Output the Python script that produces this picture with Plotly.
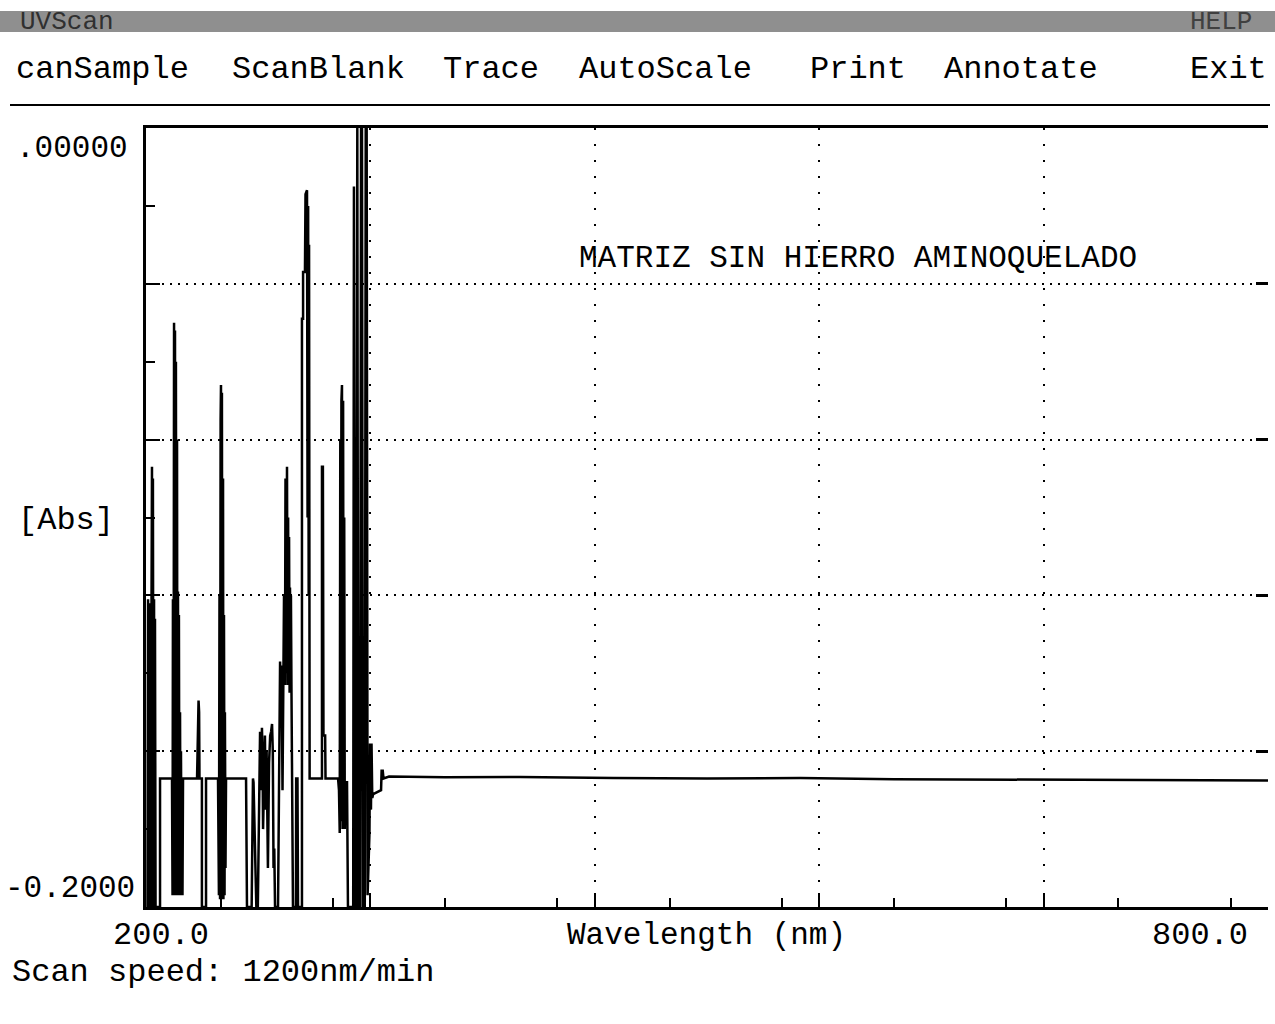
import plotly.graph_objects as go

# ---------------- data ----------------
wl_uv = [
    200.8, 201.1, 201.3, 201.6, 201.9, 202.1, 202.4, 202.7, 202.9, 203.2,
    203.5, 203.7, 204.0, 204.3, 204.5, 204.8, 205.1, 205.9, 207.5, 207.5,
    213.9, 214.2, 214.4, 214.7, 215.0, 215.3, 215.5, 215.8, 216.0, 216.3,
    216.6, 216.8, 217.1, 217.4, 217.6, 217.9, 218.2, 218.5, 218.7, 219.0,
    219.3, 219.5, 219.8, 227.3, 227.8, 228.1, 228.4, 228.6, 229.9, 229.9,
    232.1, 232.1, 238.5, 239.0, 239.3, 239.6, 239.9, 240.1, 240.4, 240.6,
    240.9, 241.2, 241.4, 241.7, 242.0, 242.2, 242.5, 242.8, 253.5, 254.0,
    256.5, 257.2, 257.5, 259.0, 259.8, 261.0, 261.3, 261.6, 262.0, 262.3,
    262.6, 263.6, 264.0, 264.5, 265.2, 265.8, 266.4, 266.9, 267.4, 267.8,
    268.2, 268.6, 269.0, 270.6, 271.2, 271.7, 272.0, 272.5, 273.0, 273.3,
    273.8, 274.3, 274.6, 274.9, 275.2, 275.4, 275.7, 276.0, 276.2, 276.5,
    276.8, 277.0, 277.3, 277.5, 277.8, 278.6, 280.2, 280.3, 281.0, 281.3,
    282.8, 283.4, 283.4, 284.0, 284.0, 285.0, 285.3, 286.1, 286.4, 286.7,
    287.0, 287.2, 287.5, 294.1, 294.1, 294.6, 294.9, 295.8, 296.0, 302.7,
    303.2, 303.6, 303.9, 304.2, 304.5, 304.8, 305.1, 305.4, 305.7, 306.0,
    306.3, 306.6, 307.5, 308.0, 310.8, 311.2, 311.7, 312.3, 313.0, 313.5,
    314.5, 315.0, 315.5, 316.0, 317.0, 317.5, 318.0, 318.5, 319.5, 319.8,
    320.3, 320.6, 321.0, 321.5, 325.7, 326.0, 326.6, 327.0,
]
abs_uv = [
    -0.200, -0.121, -0.200, -0.123, -0.200, -0.122, -0.200, -0.119, -0.100, -0.087,
    -0.200, -0.090, -0.200, -0.121, -0.200, -0.126, -0.200, -0.200, -0.200, -0.167,
    -0.167, -0.197, -0.121, -0.196, -0.050, -0.197, -0.052, -0.196, -0.060, -0.197,
    -0.080, -0.196, -0.119, -0.197, -0.125, -0.195, -0.150, -0.197, -0.160, -0.194,
    -0.170, -0.197, -0.167, -0.167, -0.147, -0.147, -0.150, -0.167, -0.167, -0.200,
    -0.200, -0.167, -0.167, -0.197, -0.120, -0.198, -0.075, -0.066, -0.198, -0.068,
    -0.197, -0.090, -0.198, -0.125, -0.197, -0.150, -0.190, -0.167, -0.167, -0.200,
    -0.200, -0.167, -0.168, -0.200, -0.200, -0.155, -0.158, -0.170, -0.154, -0.160,
    -0.180, -0.156, -0.175, -0.160, -0.190, -0.163, -0.156, -0.155, -0.153, -0.160,
    -0.190, -0.185, -0.200, -0.200, -0.160, -0.137, -0.145, -0.138, -0.170, -0.146,
    -0.120, -0.143, -0.090, -0.140, -0.095, -0.087, -0.143, -0.100, -0.130, -0.105,
    -0.145, -0.118, -0.140, -0.120, -0.145, -0.200, -0.200, -0.167, -0.167, -0.200,
    -0.200, -0.200, -0.049, -0.049, -0.037, -0.037, -0.017, -0.016, -0.100, -0.020,
    -0.120, -0.030, -0.167, -0.167, -0.087, -0.087, -0.156, -0.156, -0.167, -0.167,
    -0.170, -0.181, -0.080, -0.178, -0.070, -0.066, -0.180, -0.070, -0.176, -0.100,
    -0.180, -0.168, -0.168, -0.200, -0.200, -0.015, -0.200, -0.200, 0.000, -0.200,
    -0.200, 0.000, 0.000, -0.200, -0.200, 0.000, 0.000, -0.197, -0.181, -0.158,
    -0.175, -0.158, -0.172, -0.171, -0.170, -0.165, -0.165, -0.167,
]
wl_vis = [330, 360, 400, 450, 500, 550, 600, 650, 700, 750, 800]
abs_vis = [-0.1665, -0.1667, -0.1666, -0.1669, -0.1670, -0.1669,
           -0.1672, -0.1673, -0.1673, -0.1675, -0.1675]

x_range = [200, 800]
y_range = [-0.2, 0.0]
menu_items = ["canSample", "ScanBlank", "Trace", "AutoScale", "Print", "Annotate", "Exit"]
menu_left_px = [14, 230, 441, 577, 808, 942, 1188]

assert len(wl_uv) == len(abs_uv)

wl = wl_uv + wl_vis
ab = abs_uv + abs_vis

# ---------------- figure ----------------
W, H = 1275, 1024
L, R, T, B = 146, 7, 128, 117
PW, PH = W - L - R, H - T - B

def px(x):
    return (x - L) / PW

def py(y):
    return (H - B - y) / PH

FONT = "Liberation Mono"

fig = go.Figure()
fig.add_trace(go.Scatter(x=wl, y=ab, mode="lines",
                         line=dict(color="black", width=2.5),
                         hoverinfo="skip", showlegend=False))
# empty helper trace so the right-hand tick axis is drawn
fig.add_trace(go.Scatter(x=[None], y=[None], yaxis="y2", mode="lines",
                         hoverinfo="skip", showlegend=False))

fig.update_layout(
    width=W, height=H,
    margin=dict(l=L, r=R, t=T, b=B, pad=0),
    paper_bgcolor="white", plot_bgcolor="white",
    showlegend=False,
    xaxis=dict(range=x_range, tick0=200, dtick=120, showticklabels=False,
               ticks="inside", ticklen=14, tickwidth=2, tickcolor="black",
               showline=True, linecolor="black", linewidth=3, mirror=True,
               showgrid=True, gridcolor="black", gridwidth=2, griddash="2px,14px",
               zeroline=False,
               minor=dict(dtick=60, ticks="inside", ticklen=9, tickwidth=2,
                          tickcolor="black", showgrid=False)),
    yaxis=dict(range=y_range, tick0=-0.2, dtick=0.04, showticklabels=False,
               ticks="inside", ticklen=14, tickwidth=2, tickcolor="black",
               showline=True, linecolor="black", linewidth=3,
               showgrid=True, gridcolor="black", gridwidth=2, griddash="2px,6px",
               zeroline=False,
               minor=dict(dtick=0.02, ticks="inside", ticklen=9, tickwidth=2,
                          tickcolor="black", showgrid=False)),
    yaxis2=dict(range=y_range, overlaying="y", side="right", anchor="x",
                tick0=-0.2, dtick=0.04, showticklabels=False,
                ticks="inside", ticklen=12, tickwidth=3, tickcolor="black",
                showline=False, showgrid=False, zeroline=False),
)

ann = []
def add_text(text, x, y, size=32, xanchor="left", color="black"):
    ann.append(dict(text=text, x=x, y=y, xref="paper", yref="paper",
                    xanchor=xanchor, yanchor="middle", showarrow=False,
                    font=dict(family=FONT, size=size, color=color)))

for item, lx in zip(menu_items, menu_left_px):
    add_text(item, px(lx), py(69))

add_text(".00000", px(130), py(148), size=31, xanchor="right")
add_text("-0.2000", px(137), py(888), size=31, xanchor="right")
add_text("[Abs]", px(16), py(520))
add_text("200.0", px(161), py(935), xanchor="center")
add_text("Wavelength (nm)", px(706), py(935), size=31, xanchor="center")
add_text("800.0", px(1200), py(935), xanchor="center")
add_text("Scan speed: 1200nm/min", px(10), py(972))
add_text("MATRIZ SIN HIERRO AMINOQUELADO", px(577), py(258), size=31)
add_text("UVScan", px(18), py(22), size=26, color="#303030")
add_text("HELP", px(1188), py(22), size=26, color="#404040")

fig.update_layout(annotations=ann)

fig.update_layout(shapes=[
    dict(type="rect", xref="paper", yref="paper",
         x0=px(0), x1=px(W), y0=py(32), y1=py(11),
         fillcolor="#8f8f8f", line=dict(width=0), layer="below"),
    dict(type="line", xref="paper", yref="paper",
         x0=px(10), x1=px(1270), y0=py(105), y1=py(105),
         line=dict(color="black", width=2)),
])

fig.write_html("out.html")
